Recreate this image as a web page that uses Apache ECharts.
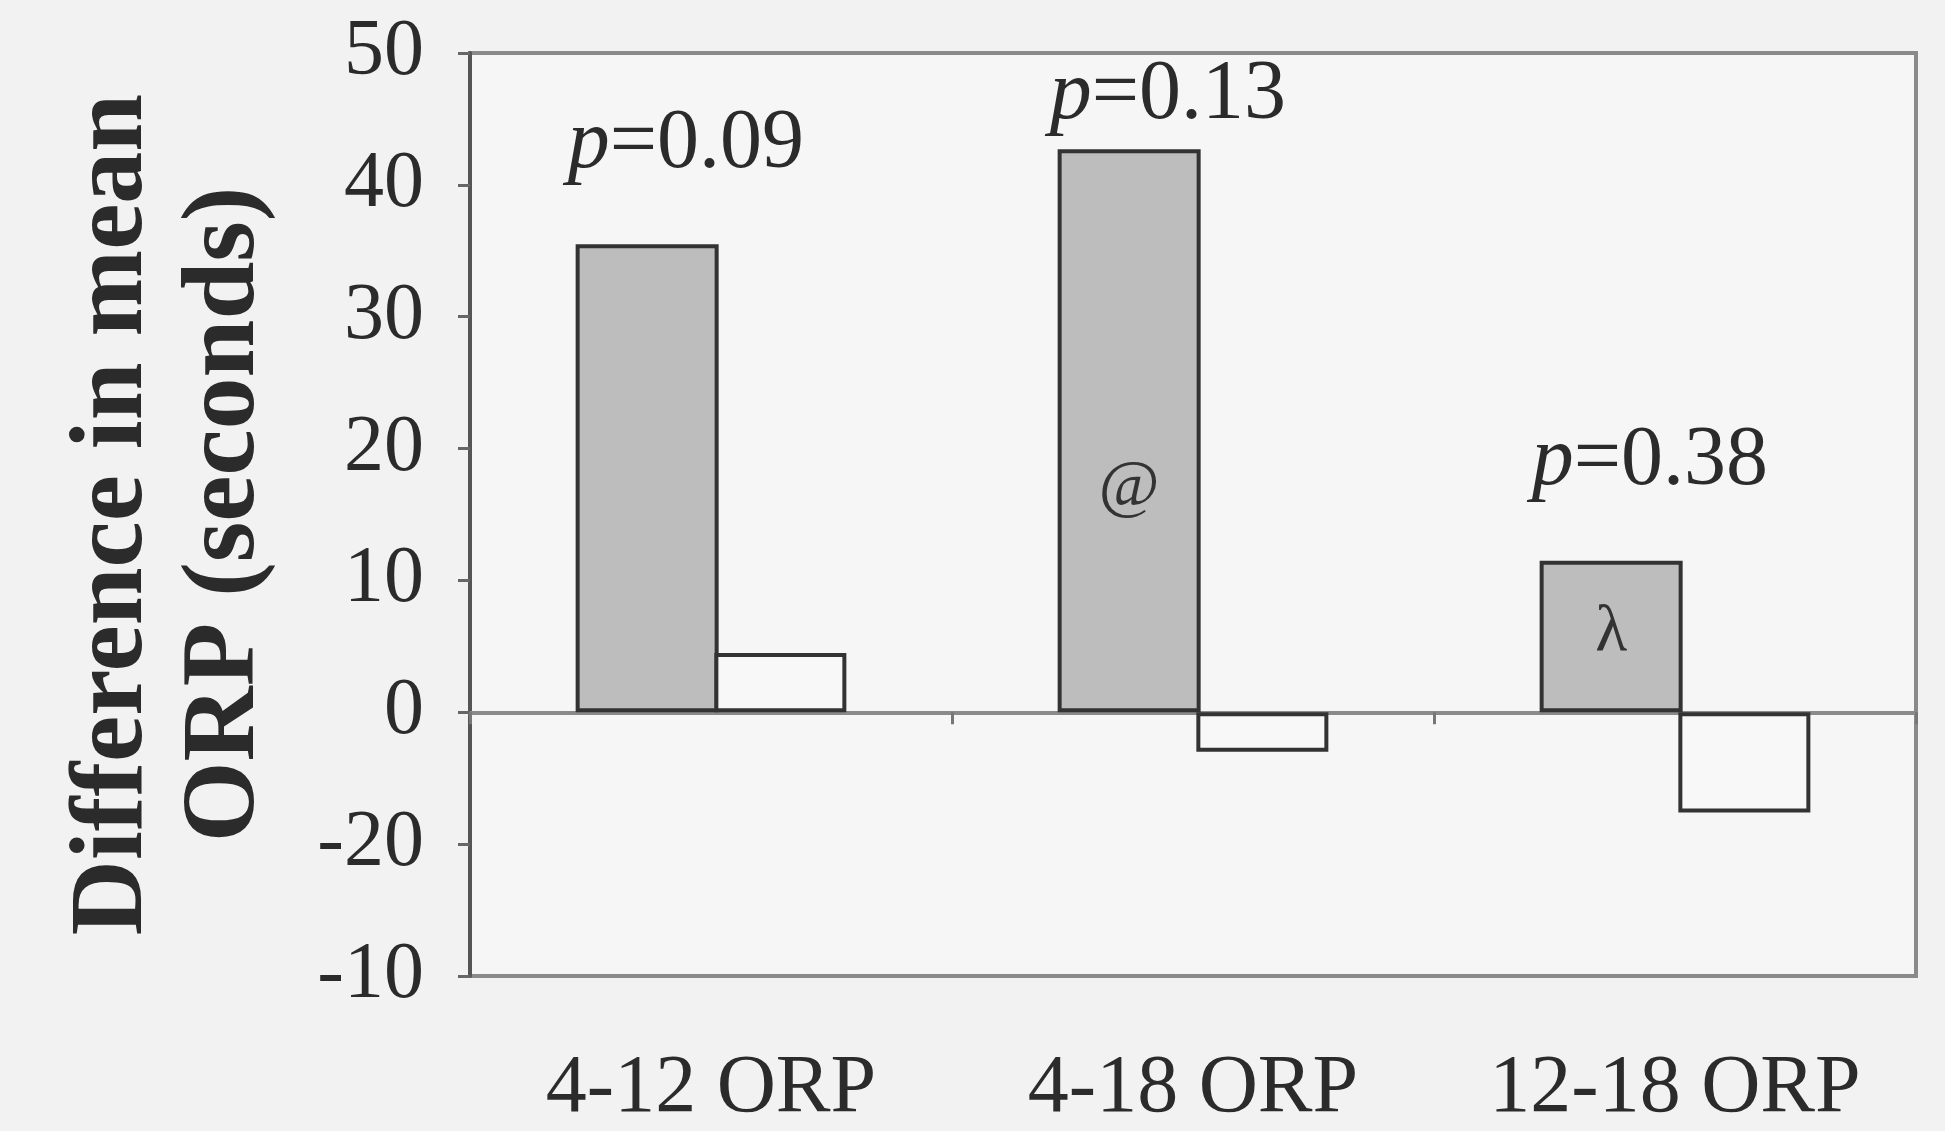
<!DOCTYPE html>
<html>
<head>
<meta charset="utf-8">
<script src="https://cdn.jsdelivr.net/npm/echarts@6/dist/echarts.min.js"></script>
<style>
html,body{margin:0;padding:0;background:#f2f2f2;}
#chart{width:1945px;height:1131px;}
</style>
</head>
<body>
<div id="chart"></div>
<script>
// ---- data ----
const categories = ['4-12 ORP', '4-18 ORP', '12-18 ORP'];
const greyValues = [35.5, 42.7, 11.5];
const whiteValues = [4.5, -3.0, -7.6];
const pLabels = ['0.09', '0.13', '0.38'];
const yTickValues = [-20, -10, 0, 10, 20, 30, 40, 50];
const yTickLabels = ['-10', '-20', '0', '10', '20', '30', '40', '50'];
const symbolNotes = [
  { category: '4-18 ORP', value: 17, text: '@' },
  { category: '12-18 ORP', value: 6, text: 'λ' }
];

// ---- styling per label (positions kept out of data) ----
const pLabelGap = [57, 11, 57];
const font = '"Liberation Serif", serif';

const chart = echarts.init(document.getElementById('chart'));

const greyData = greyValues.map((v, i) => ({
  value: v,
  label: {
    show: true,
    position: [-8, -pLabelGap[i]],
    align: 'left',
    verticalAlign: 'bottom',
    formatter: '{i|p}{r|=' + pLabels[i] + '}',
    rich: {
      i: { fontFamily: font, fontStyle: 'italic', fontSize: 84, color: '#2b2b2b', lineHeight: 84 },
      r: { fontFamily: font, fontSize: 84, color: '#2b2b2b', lineHeight: 84 }
    }
  }
}));

const option = {
  backgroundColor: '#f2f2f2',
  animation: false,
  textStyle: { fontFamily: font },
  grid: {
    left: 470, right: 29, top: 53, bottom: 155,
    outerBoundsMode: 'none',
    containLabel: false,
    show: true,
    backgroundColor: '#f6f6f6',
    borderColor: '#8a8a8a',
    borderWidth: 4
  },
  xAxis: [
    {
      type: 'category',
      data: categories,
      position: 'bottom',
      axisLine: { show: false, onZero: false },
      axisTick: { show: false },
      axisLabel: {
        interval: 0, hideOverlap: false,
        fontFamily: font, fontSize: 82, color: '#2b2b2b', margin: 72
      }
    },
    {
      type: 'category',
      data: categories,
      position: 'bottom',
      axisLine: { show: true, onZero: true, lineStyle: { color: '#8a8a8a', width: 4 } },
      axisTick: { show: true, length: 12, lineStyle: { color: '#777', width: 3 } },
      axisLabel: { show: false }
    }
  ],
  yAxis: {
    type: 'value',
    min: -20, max: 50, interval: 10,
    name: 'Difference in mean\nORP (seconds)',
    nameLocation: 'middle',
    nameRotate: 90,
    nameGap: 188,
    nameMoveOverlap: false,
    nameTextStyle: {
      fontFamily: font, fontWeight: 'bold', fontSize: 104, lineHeight: 112,
      color: '#2b2b2b', align: 'center'
    },
    axisLine: { show: true, lineStyle: { color: '#555', width: 4 } },
    axisTick: { show: true, length: 12, lineStyle: { color: '#666', width: 3 } },
    splitLine: { show: false },
    axisLabel: {
      fontFamily: font, fontSize: 80, color: '#2b2b2b', margin: 46,
      formatter: function (v) {
        const k = yTickValues.indexOf(v);
        return k >= 0 ? yTickLabels[k] : '';
      }
    }
  },
  series: [
    {
      type: 'bar',
      xAxisIndex: 0,
      data: greyData,
      barWidth: 143,
      barGap: '-3%',
      itemStyle: { color: '#bdbdbd', borderColor: '#333', borderWidth: 4 },
      markPoint: {
        symbol: 'circle',
        symbolSize: 2,
        itemStyle: { color: 'rgba(0,0,0,0)' },
        label: {
          show: true, position: 'inside',
          fontFamily: font, fontSize: 66, color: '#333',
          formatter: p => p.name
        },
        data: symbolNotes.map(n => ({ name: n.text, coord: [n.category, n.value] }))
      }
    },
    {
      type: 'bar',
      xAxisIndex: 0,
      data: whiteValues,
      barWidth: 132,
      itemStyle: { color: '#f8f8f8', borderColor: '#333', borderWidth: 4 }
    }
  ]
};
chart.setOption(option);
</script>
</body>
</html>
